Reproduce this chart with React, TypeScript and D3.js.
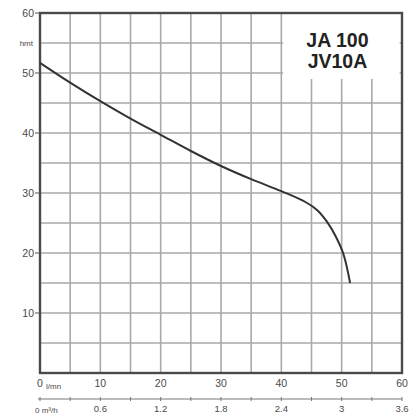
import * as d3 from "d3";
import React, { useRef, useEffect } from "react";

// pump curve, flow (l/min) vs head (hmt)
const flowLmin = [0, 5, 10, 15, 20, 25, 30, 35, 40, 44, 46, 47.5, 49, 50.3, 51.4];
const headHmt = [51.7, 48.4, 45.3, 42.4, 39.7, 37.0, 34.5, 32.3, 30.3, 28.5, 27.1, 25.3, 22.8, 19.8, 15];

const yTicks = [10, 20, 30, 40, 50, 60];
const xTicks = [10, 20, 30, 40, 50, 60];
const m3Ticks = [0.6, 1.2, 1.8, 2.4, 3, 3.6];
const titleLines = ["JA 100", "JV10A"];

const App = () => {
    const svgRef = useRef<SVGSVGElement>(null);

    useEffect(() => {
        const width = 414;
        const height = 415;
        const marginLeft = 40;
        const marginRight = 12;
        const marginTop = 13;
        const marginBottom = 42;
        const font = "'Liberation Sans', Arial, sans-serif";

        const x = d3.scaleLinear().domain([0, 60]).range([marginLeft, width - marginRight]);
        const y = d3.scaleLinear().domain([0, 60]).range([height - marginBottom, marginTop]);
        const xm3 = d3.scaleLinear().domain([0, 3.6]).range([marginLeft, width - marginRight]);

        const svg = d3.select(svgRef.current);
        svg.selectAll("*").remove();
        svg.append("rect").attr("width", width).attr("height", height).attr("fill", "#fff");

        // grid every 5 units
        const grid = svg.append("g").attr("stroke", "#a9a9a9").attr("stroke-width", 1.6);
        grid.selectAll("line.v")
            .data(d3.range(5, 60, 5))
            .join("line")
            .attr("x1", d => x(d)).attr("x2", d => x(d))
            .attr("y1", y(60)).attr("y2", y(0));
        grid.selectAll("line.h")
            .data(d3.range(5, 60, 5))
            .join("line")
            .attr("class", "h")
            .attr("x1", x(0)).attr("x2", x(60))
            .attr("y1", d => y(d)).attr("y2", d => y(d));

        // title box
        svg.append("rect")
            .attr("x", x(40.3)).attr("y", y(60))
            .attr("width", x(59.6) - x(40.3)).attr("height", y(49) - y(60))
            .attr("fill", "#fff");
        svg.append("g")
            .selectAll("text")
            .data(titleLines)
            .join("text")
            .attr("x", x(49.3))
            .attr("y", (d, i) => 47 + i * 21)
            .attr("text-anchor", "middle")
            .attr("font-family", font)
            .attr("font-weight", "bold")
            .attr("font-size", 19.5)
            .attr("fill", "#222")
            .text(d => d);

        // frame
        svg.append("rect")
            .attr("x", x(0)).attr("y", y(60))
            .attr("width", x(60) - x(0)).attr("height", y(0) - y(60))
            .attr("fill", "none").attr("stroke", "#4a4a4a").attr("stroke-width", 2.4);

        // curve
        const pts = flowLmin.map((f, i) => [f, headHmt[i]] as [number, number]);
        svg.append("path")
            .datum(pts)
            .attr("fill", "none")
            .attr("stroke", "#333")
            .attr("stroke-width", 2)
            .attr("d", d3.line<[number, number]>().x(d => x(d[0])).y(d => y(d[1])).curve(d3.curveCatmullRom));

        const labels = svg.append("g")
            .attr("font-family", font)
            .attr("font-size", 10.5)
            .attr("fill", "#4a4a4a");

        // left axis
        labels.selectAll("text.y")
            .data(yTicks)
            .join("text")
            .attr("class", "y")
            .attr("x", 34).attr("y", d => y(d)).attr("dy", "0.35em")
            .attr("text-anchor", "end")
            .text(d => d);
        svg.append("g").attr("stroke", "#555").attr("stroke-width", 1)
            .selectAll("line")
            .data(yTicks)
            .join("line")
            .attr("x1", 35).attr("x2", x(0))
            .attr("y1", d => y(d)).attr("y2", d => y(d));
        labels.append("text")
            .attr("x", 33).attr("y", y(55)).attr("dy", "0.35em")
            .attr("text-anchor", "end").attr("font-size", 8)
            .text("hmt");

        // bottom l/min axis
        labels.selectAll("text.x")
            .data(xTicks)
            .join("text")
            .attr("class", "x")
            .attr("x", d => x(d)).attr("y", y(0) + 14)
            .attr("text-anchor", "middle")
            .text(d => d);
        labels.append("text")
            .attr("x", x(0) - 3).attr("y", y(0) + 14)
            .text("0");
        labels.append("text")
            .attr("x", x(0) + 6).attr("y", y(0) + 16)
            .attr("font-size", 8)
            .text("l/mn");

        // m3/h axis
        const axY = 399;
        svg.append("line")
            .attr("x1", xm3(0) - 2).attr("x2", xm3(3.6))
            .attr("y1", axY).attr("y2", axY)
            .attr("stroke", "#777").attr("stroke-width", 1);
        svg.append("g").attr("stroke", "#777").attr("stroke-width", 1)
            .selectAll("line")
            .data(d3.range(0, 3.61, 0.3))
            .join("line")
            .attr("x1", d => xm3(d)).attr("x2", d => xm3(d))
            .attr("y1", axY - 2).attr("y2", axY + 2);
        labels.selectAll("text.m")
            .data(m3Ticks)
            .join("text")
            .attr("class", "m")
            .attr("x", d => xm3(d)).attr("y", axY + 13)
            .attr("text-anchor", "middle")
            .attr("font-size", 9.5)
            .text(d => d);
        labels.append("text")
            .attr("x", xm3(0) - 5).attr("y", axY + 14)
            .attr("font-size", 8)
            .text("0 m³/h");
    }, []);

    return (
        <svg ref={svgRef} width={414} height={415}
            style={{ position: "absolute", left: 0, top: 0 }} />
    );
};

export default App;
